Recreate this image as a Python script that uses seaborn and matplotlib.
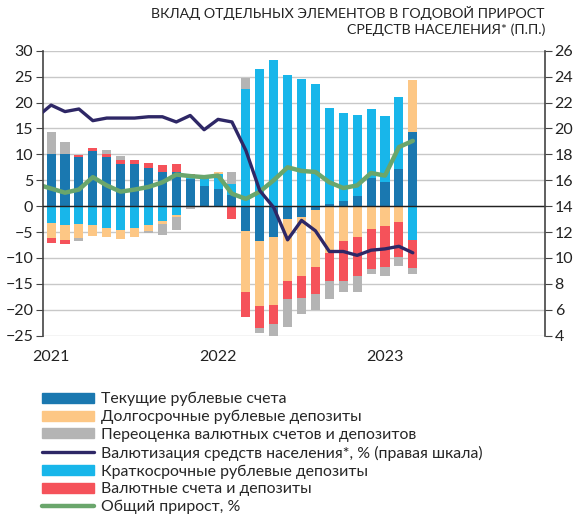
import numpy as np
import pandas as pd
import matplotlib
matplotlib.use("Agg")
import matplotlib.pyplot as plt
from matplotlib.patches import Patch
from matplotlib.lines import Line2D
from matplotlib.transforms import blended_transform_factory
import seaborn as sns

# --- Data: Jan 2021 .. Mar 2023, contributions in p.p. ---
months = list(range(27))
current_rub = [10.1, 10.0, 9.4, 10.6, 9.5, 8.2, 8.2, 7.4, 6.5, 6.5, 5.3, 3.9, 3.4, 2.2,
               -4.8, -6.8, -6.0, -2.5, -2.1, -0.8, 0.5, 1.0, 1.9, 5.4, 4.6, 7.2, 14.3]
short_rub = [-3.3, -3.7, -3.5, -3.7, -4.2, -4.6, -4.2, -3.7, -2.9, -1.7, 0.7, 1.5, 2.8, 2.0,
             22.7, 26.4, 28.2, 25.3, 24.6, 23.5, 18.5, 16.9, 15.6, 13.3, 12.8, 13.8, -6.5]
long_rub = [-2.8, -2.9, -2.6, -2.1, -1.8, -1.7, -1.8, -1.0, -0.6, -0.4, 0.0, 0.0, 0.4, 0.0,
            -11.8, -12.5, -13.0, -11.9, -11.3, -11.0, -9.1, -6.8, -5.9, -4.4, -3.9, -3.0, 10.0]
fx_deposits = [-1.1, -0.8, 0.4, 0.7, 0.6, 0.7, 0.8, 0.9, 1.5, 1.7, 0.3, 0.0, 0.0, -2.4,
               -4.7, -4.2, -3.8, -3.5, -4.4, -5.2, -5.4, -7.6, -7.5, -7.7, -7.8, -6.9, -5.4]
revaluation = [4.3, 2.3, -0.7, 0.0, 0.8, 0.8, 0.0, -0.4, -2.0, -2.5, -0.6, 0.0, 0.0, 2.4,
               2.1, -0.9, -2.6, -5.5, -3.0, -3.1, -3.5, -2.1, -3.1, -0.9, -1.7, -1.6, -1.2]

# lines start one month earlier (Dec 2020, clipped by the axis)
line_months = list(range(-1, 27))
total_growth = [4.2, 3.4, 2.6, 3.2, 5.6, 4.0, 2.8, 3.2, 3.7, 4.6, 6.1, 5.8, 5.6, 5.9, 2.4,
                1.4, 2.8, 5.0, 7.5, 6.8, 6.6, 4.6, 3.5, 4.0, 6.4, 5.9, 11.4, 12.6]
dollarization = [20.9, 21.8, 21.3, 21.5, 20.6, 20.8, 20.8, 20.8, 20.9, 20.9, 20.5, 21.0,
                 19.9, 20.7, 20.5, 18.3, 15.2, 13.9, 11.4, 12.9, 12.1, 10.5, 10.5, 10.2,
                 10.6, 10.7, 10.9, 10.4]

year_labels = ["2021", "2022", "2023"]
year_pos = [0, 12, 24]

names = {
    "cur": "Текущие рублевые счета",
    "long": "Долгосрочные рублевые депозиты",
    "reval": "Переоценка валютных счетов и депозитов",
    "dollar": "Валютизация средств населения*, % (правая шкала)",
    "short": "Краткосрочные рублевые депозиты",
    "fx": "Валютные счета и депозиты",
    "total": "Общий прирост, %",
}
colors = {
    "cur": "#1a78b0",
    "short": "#18b6ea",
    "long": "#fdc785",
    "fx": "#f5525a",
    "reval": "#b4b4b4",
    "dollar": "#2e2766",
    "total": "#6aa66c",
}

sns.set_style("white")
plt.rcParams["font.family"] = ["Lato", "DejaVu Sans"]

fig = plt.figure(figsize=(5.86, 5.26), dpi=100)
ax = fig.add_axes([0.0734, 0.3618, 0.8566, 0.5418])

# --- stacked bars: positives stack up, negatives stack down ---
stack_order = [("cur", current_rub), ("short", short_rub), ("long", long_rub),
               ("fx", fx_deposits), ("reval", revaluation)]
pos_base = np.zeros(len(months))
neg_base = np.zeros(len(months))
for key, vals in stack_order:
    vals = np.array(vals)
    bottom = np.where(vals >= 0, pos_base, neg_base)
    df = pd.DataFrame({"month": months, "value": vals})
    sns.barplot(data=df, x="month", y="value", native_scale=True, width=0.65,
                color=colors[key], saturation=1, bottom=bottom, ax=ax,
                edgecolor="none", linewidth=0)
    pos_base = pos_base + np.clip(vals, 0, None)
    neg_base = neg_base + np.clip(vals, None, 0)

# --- total growth, left scale ---
sns.lineplot(x=line_months, y=total_growth, color=colors["total"], lw=3.2, ax=ax)

ax.set_xlim(-0.58, 35.5)
ax.set_ylim(-25, 30)
ax.set_yticks(range(-25, 31, 5))
ax.set_axisbelow(True)
ax.yaxis.grid(True, color="#c8c8c8", lw=1.0)
ax.set_xlabel("")
ax.set_ylabel("")
for s in ["top", "right"]:
    ax.spines[s].set_visible(False)
ax.spines["left"].set_color("#444444")
ax.spines["left"].set_linewidth(1.2)
ax.spines["bottom"].set_position(("data", 0))
ax.spines["bottom"].set_color("#222222")
ax.spines["bottom"].set_linewidth(1.0)
ax.set_xticks([11.5, 23.5])
ax.set_xticklabels(["", ""])
ax.tick_params(axis="x", direction="out", length=4, color="#222222")
ax.tick_params(axis="y", direction="out", length=5, color="#444444",
               labelsize=11.5, labelcolor="#222222", pad=2)

trans = blended_transform_factory(ax.transData, ax.transAxes)
for pos, lab in zip(year_pos, year_labels):
    ax.text(pos, -0.074, lab, transform=trans, ha="center", va="center",
            fontsize=11.5, color="#222222")

# --- dollarization, right scale ---
ax2 = ax.twinx()
sns.lineplot(x=line_months, y=dollarization, color=colors["dollar"], lw=2.4, ax=ax2)
ax2.set_xlim(-0.58, 35.5)
ax2.set_ylim(4, 26)
ax2.set_yticks(range(4, 27, 2))
ax2.set_ylabel("")
for s in ["top", "left", "bottom"]:
    ax2.spines[s].set_visible(False)
ax2.spines["right"].set_color("#444444")
ax2.spines["right"].set_linewidth(1.2)
ax2.tick_params(axis="y", direction="out", length=5, color="#444444",
                labelsize=11.5, labelcolor="#222222", pad=2)

fig.text(0.930, 0.988, "ВКЛАД ОТДЕЛЬНЫХ ЭЛЕМЕНТОВ В ГОДОВОЙ ПРИРОСТ\nСРЕДСТВ НАСЕЛЕНИЯ* (П.П.)",
         ha="right", va="top", fontsize=10.2, color="#222222", linespacing=1.3)

# --- legend ---
handles = [
    Patch(color=colors["cur"], label=names["cur"]),
    Patch(color=colors["long"], label=names["long"]),
    Patch(color=colors["reval"], label=names["reval"]),
    Line2D([], [], color=colors["dollar"], lw=2.4, label=names["dollar"]),
    Patch(color=colors["short"], label=names["short"]),
    Patch(color=colors["fx"], label=names["fx"]),
    Line2D([], [], color=colors["total"], lw=3.2, label=names["total"]),
]
fig.legend(handles=handles, loc="upper left", bbox_to_anchor=(0.072, 0.2547),
           frameon=False, fontsize=11.4, handlelength=3.25, handleheight=0.6,
           handletextpad=0.45, labelspacing=0.23, borderaxespad=0, borderpad=0)

fig.savefig("out.png", dpi=100)
